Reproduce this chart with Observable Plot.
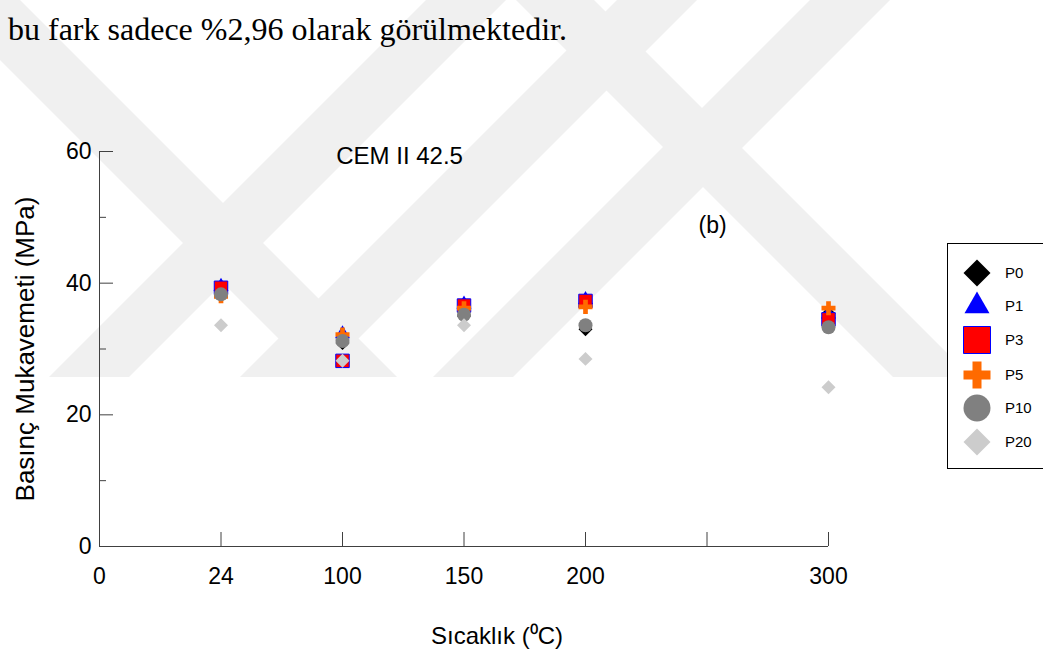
<!DOCTYPE html>
<html>
<head>
<meta charset="utf-8">
<script src="https://cdn.jsdelivr.net/npm/d3@7"></script>
<script src="https://cdn.jsdelivr.net/npm/@observablehq/plot@0.6"></script>
<style>
  body { margin: 0; background: #fff; }
  #wrap { position: relative; width: 1043px; height: 654px; overflow: hidden; font-family: Arial, "Liberation Sans", sans-serif; }
  #wm, #chart { position: absolute; left: 0; top: 0; }
  #lead { position: absolute; left: 8px; top: 11px; font-family: "Liberation Serif", "Times New Roman", serif; font-size: 32px; white-space: nowrap; color: #000; }
  #legend { position: absolute; left: 947px; top: 243px; width: 120px; height: 224px; border: 1px solid #000; background: #fff; }
  #legend svg { display: block; }
</style>
</head>
<body>
<div id="wrap">
  <svg id="wm" width="1043" height="654"></svg>
  <div id="lead">bu fark sadece %2,96 olarak görülmektedir.</div>
  <div id="chart"></div>
  <div id="legend"></div>
</div>
<script>
// Heating groups: plotted positions on the temperature axis
const temps = [50, 100, 150, 200, 300];

// Axis ticks and their printed labels
const xTicks = [0, 50, 100, 150, 200, 250, 300];
const xTickLabels = ["0", "24", "100", "150", "200", "", "300"];
const yMajor = [0, 20, 40, 60];
const yMinor = [10, 30, 50];

// Compressive strength (MPa) per mix
const seriesNames = ["P0", "P1", "P3", "P5", "P10", "P20"];
const P0  = [39.0, 30.9, 35.0, 33.0, 35.4];
const P1  = [39.5, 32.3, 36.8, 37.5, 35.3];
const P3  = [39.3, 28.2, 36.6, 37.3, 34.5];
const P5  = [38.0, 32.2, 36.2, 36.4, 36.2];
const P10 = [38.3, 31.2, 35.2, 33.6, 33.3];
const P20 = [33.6, 28.2, 33.6, 28.5, 24.2];

const values = {P0, P1, P3, P5, P10, P20};

// Marker style per mix
const styles = {
  P0:  {symbol: "diamond2", fill: "#000000", stroke: "none", r: 6.3},
  P1:  {symbol: "triangle", fill: "#0000ff", stroke: "none", r: 5.6},
  P3:  {symbol: "square",   fill: "#ff0000", stroke: "#0000ff", r: 7.6},
  P5:  {symbol: "cross",    fill: "#ff6a00", stroke: "none", r: 5.9},
  P10: {symbol: "circle",   fill: "#808080", stroke: "none", r: 7.0},
  P20: {symbol: "diamond2", fill: "#cccccc", stroke: "none", r: 6.3}
};

// Light background emblem: diagonal bands cut flat at the bottom
const emblemBottom = 377;
const bands = [
  {x: 49,  w: 80, dir: -1},
  {x: 240, w: 80, dir: -1},
  {x: 433, w: 80, dir: -1},
  {x: 317, w: 80, dir: 1},
  {x: 893, w: 78, dir: 1}
];
const wm = d3.select("#wm");
for (const b of bands) {
  const shift = -b.dir * emblemBottom; // band runs up to the top edge
  const pts = [
    [b.x, emblemBottom], [b.x + b.w, emblemBottom],
    [b.x + b.w + shift, 0], [b.x + shift, 0]
  ];
  wm.append("polygon").attr("points", pts.map(p => p.join(",")).join(" ")).attr("fill", "#f0f0f0");
}

const axisColor = "#404040";

const dotMarks = seriesNames.map(name => {
  const s = styles[name];
  const rows = temps.map((t, i) => ({t, v: values[name][i]}));
  return Plot.dot(rows, {
    x: "t", y: "v", symbol: () => s.symbol, r: s.r,
    fill: s.fill, stroke: s.stroke, strokeWidth: 1
  });
});

const chart = Plot.plot({
  width: 1043,
  height: 654,
  marginLeft: 99,
  marginRight: 215,
  marginTop: 151,
  marginBottom: 108,
  style: {fontFamily: "Arial, 'Liberation Sans', sans-serif", fontSize: "23px", background: "transparent", color: "#000"},
  x: {domain: [0, 300]},
  y: {domain: [0, 60]},
  symbol: {type: "identity"},
  marks: [
    Plot.ruleX([0], {y1: 0, y2: 60, stroke: axisColor}),
    Plot.ruleY([0], {x1: 0, x2: 300, stroke: axisColor}),
    Plot.axisY(yMajor, {tickSize: -14, tickPadding: 22, stroke: axisColor, fill: "#000", fontSize: 23, label: null}),
    Plot.axisY(yMinor, {tickSize: -7, tickFormat: () => "", stroke: axisColor, label: null}),
    Plot.axisX(xTicks, {tickSize: -14, tickPadding: 35, stroke: axisColor, fill: "#000", fontSize: 23,
      tickFormat: (d) => xTickLabels[xTicks.indexOf(d)], label: null}),
    Plot.text(["Basınç Mukavemeti (MPa)"], {frameAnchor: "left", textAnchor: "middle", lineAnchor: "middle", dx: -74, rotate: -90, fontSize: 26, fill: "#000"}),
    Plot.text(["Sıcaklık (⁰C)"], {frameAnchor: "bottom", lineAnchor: "middle", dx: 33, dy: 90, fontSize: 24, fill: "#000"}),
    Plot.text(["CEM II 42.5"], {x: 123.5, y: 59.3, fontSize: 24, fill: "#000"}),
    Plot.text(["(b)"], {x: 252.3, y: 48.7, fontSize: 23, fill: "#000"}),
    ...dotMarks
  ]
});
document.getElementById("chart").append(chart);

// Legend with enlarged markers
const legendSizes = {P0: 465, P1: 270, P3: 729, P5: 405, P10: 572, P20: 465};
const symbolTypes = {diamond2: d3.symbolDiamond2, triangle: d3.symbolTriangle, square: d3.symbolSquare, cross: d3.symbolCross, circle: d3.symbolCircle};
const legendRowsY = [29, 62, 96, 131, 164, 198];
const lg = d3.select("#legend").append("svg").attr("width", 120).attr("height", 224);
seriesNames.forEach((name, i) => {
  const s = styles[name];
  const g = lg.append("g").attr("transform", `translate(29,${legendRowsY[i]})`);
  g.append("path")
    .attr("d", d3.symbol(symbolTypes[s.symbol], legendSizes[name])())
    .attr("fill", s.fill)
    .attr("stroke", s.stroke === "none" ? null : s.stroke)
    .attr("stroke-width", 1);
  lg.append("text").attr("x", 57).attr("y", legendRowsY[i]).attr("dy", "0.35em")
    .attr("font-family", "Arial, 'Liberation Sans', sans-serif").attr("font-size", 15).text(name);
});
</script>
</body>
</html>
